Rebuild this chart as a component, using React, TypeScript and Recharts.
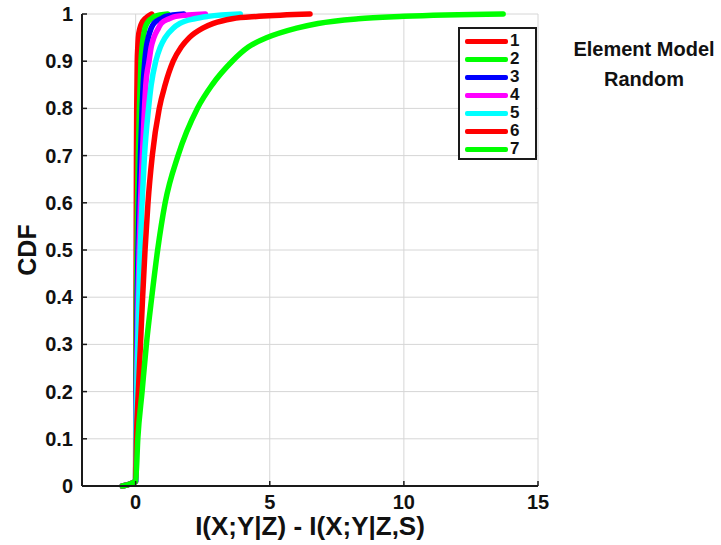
import React from 'react';
import { LineChart, Line, XAxis, YAxis, CartesianGrid, Label } from 'recharts';

// Shared CDF levels; each series lists the x value reached at every level.
const cdfLevels = [0, 0.01, 0.1, 0.2, 0.3, 0.4, 0.5, 0.6, 0.7, 0.8, 0.85, 0.9, 0.93, 0.95, 0.97, 0.98, 0.99, 0.995, 1];

const quantiles1 = [-0.5, 0, 0.002, 0.005, 0.01, 0.015, 0.02, 0.025, 0.03, 0.04, 0.05, 0.06, 0.08, 0.1, 0.16, 0.22, 0.35, 0.45, 0.6];
const quantiles2 = [-0.5, 0, 0.004, 0.01, 0.02, 0.03, 0.05, 0.07, 0.1, 0.14, 0.17, 0.2, 0.24, 0.28, 0.35, 0.42, 0.58, 0.7, 1.2];
const quantiles3 = [-0.5, 0, 0.01, 0.02, 0.04, 0.06, 0.09, 0.13, 0.18, 0.24, 0.28, 0.34, 0.4, 0.47, 0.58, 0.68, 0.95, 1.1, 1.8];
const quantiles4 = [-0.5, 0, 0.01, 0.03, 0.06, 0.09, 0.13, 0.18, 0.25, 0.33, 0.38, 0.5, 0.58, 0.68, 0.85, 0.95, 1.25, 1.5, 2.6];
const quantiles5 = [-0.5, 0, 0.01, 0.04, 0.08, 0.12, 0.17, 0.24, 0.33, 0.48, 0.58, 0.75, 0.92, 1.1, 1.4, 1.65, 2.2, 2.7, 3.9];
const quantiles6 = [-0.5, 0, 0.03, 0.1, 0.18, 0.26, 0.35, 0.46, 0.62, 0.88, 1.1, 1.4, 1.7, 2.0, 2.5, 2.9, 3.6, 4.6, 6.5];
const quantiles7 = [-0.5, 0, 0.08, 0.24, 0.4, 0.6, 0.82, 1.1, 1.58, 2.3, 2.85, 3.6, 4.2, 4.9, 6.0, 6.8, 8.3, 10, 13.7];

const seriesNames = ['1', '2', '3', '4', '5', '6', '7'];
const seriesColors = ['#ff0000', '#00ff00', '#0000ff', '#ff00ff', '#00ffff', '#ff0000', '#00ff00'];
const seriesQuantiles = [quantiles1, quantiles2, quantiles3, quantiles4, quantiles5, quantiles6, quantiles7];

const xTicks = [0, 5, 10, 15];
const yTicks = [0, 0.1, 0.2, 0.3, 0.4, 0.5, 0.6, 0.7, 0.8, 0.9, 1];
const yTickLabels = ['0', '0.1', '0.2', '0.3', '0.4', '0.5', '0.6', '0.7', '0.8', '0.9', '1'];

const titleLines = ['Element Model', 'Random'];
const xLabel = 'I(X;Y|Z) - I(X;Y|Z,S)';
const yLabel = 'CDF';

const FONT = '"Liberation Sans", Arial, Helvetica, sans-serif';
const FRAME = '#1a1a1a';
const TICK_LEN = 5;

const series = seriesNames.map((name, i) => ({
  name,
  color: seriesColors[i],
  data: cdfLevels.map((p, k) => ({ x: seriesQuantiles[i][k], y: p })),
}));

const BottomTick = (props: any) => {
  const { x, y, payload } = props;
  return (
    <g>
      <line x1={x} y1={y} x2={x} y2={y - TICK_LEN} stroke={FRAME} strokeWidth={1.5} />
      <text x={x} y={y + 23} textAnchor="middle" fontFamily={FONT} fontWeight="bold" fontSize={20} fill="#111">
        {String(payload.value)}
      </text>
    </g>
  );
};

const TopTick = (props: any) => {
  const { x, y } = props;
  return <line x1={x} y1={y} x2={x} y2={y + TICK_LEN} stroke={FRAME} strokeWidth={1.5} />;
};

const LeftTick = (props: any) => {
  const { x, y, payload } = props;
  const idx = yTicks.indexOf(payload.value);
  const label = idx >= 0 ? yTickLabels[idx] : String(payload.value);
  return (
    <g>
      <line x1={x} y1={y} x2={x + TICK_LEN} y2={y} stroke={FRAME} strokeWidth={1.5} />
      <text x={x - 9} y={y + 7} textAnchor="end" fontFamily={FONT} fontWeight="bold" fontSize={20} fill="#111">
        {label}
      </text>
    </g>
  );
};

const RightTick = (props: any) => {
  const { x, y } = props;
  return <line x1={x} y1={y} x2={x - TICK_LEN} y2={y} stroke={FRAME} strokeWidth={1.5} />;
};

const XAxisTitle = (props: any) => {
  const vb = props.viewBox;
  return (
    <text x={vb.x + vb.width / 2} y={vb.y + 49} textAnchor="middle" fontFamily={FONT} fontWeight="bold" fontSize={26} fill="#111">
      {xLabel}
    </text>
  );
};

const YAxisTitle = (props: any) => {
  const vb = props.viewBox;
  const cx = 36;
  const cy = vb.y + vb.height / 2;
  return (
    <text x={cx} y={cy} transform={`rotate(-90 ${cx} ${cy})`} textAnchor="middle" fontFamily={FONT} fontWeight="bold" fontSize={25} fill="#111">
      {yLabel}
    </text>
  );
};

const LegendBox = () => (
  <div
    style={{
      position: 'absolute',
      left: 458,
      top: 27,
      width: 75,
      height: 129,
      border: `2px solid ${FRAME}`,
      background: '#fff',
      fontFamily: FONT,
      fontWeight: 'bold',
      fontSize: 17,
      color: '#111',
    }}
  >
    {series.map((s, i) => (
      <div key={s.name} style={{ position: 'absolute', left: 5, top: 3 + i * 18, height: 18, display: 'flex', alignItems: 'center' }}>
        <div style={{ width: 43, height: 5, background: s.color, borderRadius: 2 }} />
        <span style={{ marginLeft: 2, lineHeight: '16px' }}>{s.name}</span>
      </div>
    ))}
  </div>
);

const SideTitle = () => (
  <div
    style={{
      position: 'absolute',
      left: 566,
      top: 34,
      width: 156,
      textAlign: 'center',
      fontFamily: FONT,
      fontWeight: 'bold',
      fontSize: 20,
      lineHeight: '30px',
      color: '#111',
    }}
  >
    {titleLines.map((t) => (
      <div key={t}>{t}</div>
    ))}
  </div>
);

export default function App() {
  return (
    <div style={{ position: 'absolute', left: 0, top: 0, width: 721, height: 545, background: '#fff' }}>
      <LineChart width={721} height={545} margin={{ top: 14, right: 183, bottom: 0, left: 0 }}>
        <CartesianGrid xAxisId="bottom" yAxisId="left" stroke="#d6d6d6" strokeWidth={1} />
        <XAxis
          xAxisId="bottom"
          dataKey="x"
          type="number"
          domain={[-2, 15]}
          ticks={xTicks}
          interval={0}
          height={59}
          tickSize={0}
          tickMargin={0}
          tickLine={false}
          axisLine={{ stroke: FRAME, strokeWidth: 2 }}
          tick={<BottomTick />}
        >
          <Label content={<XAxisTitle />} />
        </XAxis>
        <XAxis
          xAxisId="top"
          orientation="top"
          dataKey="x"
          type="number"
          domain={[-2, 15]}
          ticks={xTicks}
          interval={0}
          height={0}
          tickSize={0}
          tickMargin={0}
          tickLine={false}
          axisLine={{ stroke: FRAME, strokeWidth: 2 }}
          tick={<TopTick />}
        />
        <YAxis
          yAxisId="left"
          type="number"
          domain={[0, 1]}
          ticks={yTicks}
          interval={0}
          width={82}
          tickSize={0}
          tickMargin={0}
          tickLine={false}
          axisLine={{ stroke: FRAME, strokeWidth: 2 }}
          tick={<LeftTick />}
        >
          <Label content={<YAxisTitle />} />
        </YAxis>
        <YAxis
          yAxisId="right"
          orientation="right"
          type="number"
          domain={[0, 1]}
          ticks={yTicks}
          interval={0}
          width={0}
          tickSize={0}
          tickMargin={0}
          tickLine={false}
          axisLine={{ stroke: FRAME, strokeWidth: 2 }}
          tick={<RightTick />}
        />
        {series.map((s) => (
          <Line
            key={s.name}
            xAxisId="bottom"
            yAxisId="left"
            data={s.data}
            dataKey="y"
            name={s.name}
            type="monotone"
            stroke={s.color}
            strokeWidth={5.5}
            strokeLinejoin="round"
            strokeLinecap="round"
            dot={false}
            activeDot={false}
            isAnimationActive={false}
          />
        ))}
      </LineChart>
      <LegendBox />
      <SideTitle />
    </div>
  );
}
